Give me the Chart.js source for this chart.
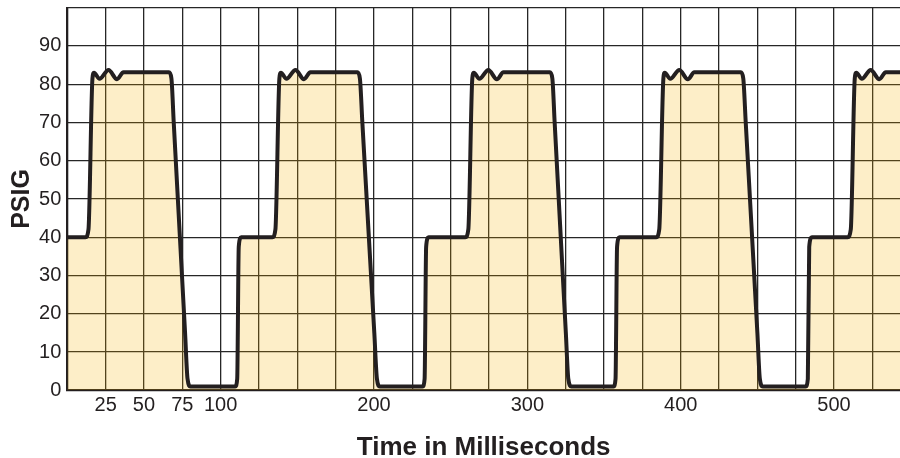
<!DOCTYPE html>
<html>
<head>
<meta charset="utf-8">
<title>PSIG</title>
<script src="https://cdn.jsdelivr.net/npm/chart.js@4.4.1/dist/chart.umd.min.js"></script>
<style>
    html, body { margin: 0; padding: 0; background: #ffffff; }
    #wrap { position: relative; width: 900px; height: 458px; }
</style>
</head>
<body>
<div id="wrap"><canvas id="main-chart"></canvas></div>
<script>
// pressure trace, time in ms
const time_ms = [
    0, 11.9, 13.8, 16.4, 17.4, 21.0, 26.9, 32.4, 36.6, 66.3, 67.9, 69.4, 76.8, 78.4, 80.3, 109.5, 110.8, 111.8, 113.4,
    133.8, 135.7, 138.3, 139.3, 142.9, 148.8, 154.3, 158.5, 189.2, 190.8, 192.4, 200.2, 201.9, 203.8, 231.7, 233.0, 234.0, 235.6,
    259.6, 261.5, 264.1, 265.1, 268.7, 274.6, 280.1, 284.4, 314.7, 316.3, 317.8, 325.1, 326.7, 328.7, 356.2, 357.5, 358.5, 360.1,
    384.1, 386.0, 388.7, 389.6, 393.2, 399.1, 404.6, 408.9, 439.2, 440.8, 442.4, 450.0, 451.6, 453.5, 481.5, 482.9, 483.8, 485.5,
    508.9, 510.9, 513.5, 514.5, 518.1, 523.9, 529.5, 533.7, 546.0
];
const psig = [
    40, 40, 42, 81.5, 83, 81.4, 83.7, 81.3, 83.1, 83.1, 81.5, 70, 15, 3, 1, 1, 3, 37.5, 40,
    40, 42, 81.5, 83, 81.4, 83.7, 81.3, 83.1, 83.1, 81.5, 70, 15, 3, 1, 1, 3, 37.5, 40,
    40, 42, 81.5, 83, 81.4, 83.7, 81.3, 83.1, 83.1, 81.5, 70, 15, 3, 1, 1, 3, 37.5, 40,
    40, 42, 81.5, 83, 81.4, 83.7, 81.3, 83.1, 83.1, 81.5, 70, 15, 3, 1, 1, 3, 37.5, 40,
    40, 42, 81.5, 83, 81.4, 83.7, 81.3, 83.1, 83.1
];

const x_tick_labels = [25, 50, 75, 100, 200, 300, 400, 500];
const y_tick_labels = [0, 10, 20, 30, 40, 50, 60, 70, 80, 90];

document.addEventListener("DOMContentLoaded", () => {
    const ctx = document.getElementById("main-chart").getContext("2d");
    const font_family = '"Liberation Sans", Arial, Helvetica, sans-serif';
    const ink = "#231f20";

    Chart.defaults.font.family = font_family;
    Chart.defaults.color = ink;

    const points = time_ms.map((t, i) => ({ x: t, y: psig[i] }));

    // no extra room for the edge tick labels, the frame sits where the padding says
    const no_edge_padding = (scale) => {
        scale.paddingTop = 0;
        scale.paddingBottom = 0;
        scale.paddingLeft = 0;
        scale.paddingRight = 0;
    };

    new Chart(ctx, {
        type: "line",
        data: {
            datasets: [{
                data: points,
                borderColor: ink,
                borderWidth: 4,
                borderJoinStyle: "round",
                borderCapStyle: "round",
                backgroundColor: "rgba(246, 176, 0, 0.216)",
                fill: "origin",
                pointRadius: 0,
                cubicInterpolationMode: "monotone",
            }],
        },
        options: {
            responsive: true,
            maintainAspectRatio: false,
            animation: false,
            layout: {
                padding: { top: 7.7, right: 0, bottom: 0, left: 0 },
            },
            plugins: {
                legend: { display: false },
                tooltip: { enabled: false },
            },
            scales: {
                x: {
                    type: "linear",
                    min: 0,
                    max: 543,
                    afterFit: (scale) => {
                        scale.height = 67.7;
                        no_edge_padding(scale);
                    },
                    grid: {
                        color: "#262626",
                        lineWidth: 1.3,
                        drawTicks: false,
                    },
                    border: { color: ink, width: 2 },
                    ticks: {
                        stepSize: 25,
                        autoSkip: false,
                        maxRotation: 0,
                        includeBounds: false,
                        padding: 3,
                        font: { size: 20 },
                        callback: (value) => x_tick_labels.includes(value) ? String(value) : "",
                    },
                    title: {
                        display: true,
                        text: "Time in Milliseconds",
                        font: { size: 26, weight: "bold", lineHeight: 1 },
                        padding: { top: 0, bottom: -3 },
                    },
                },
                y: {
                    min: 0,
                    max: 100,
                    afterFit: (scale) => {
                        scale.width = 67.3;
                        no_edge_padding(scale);
                    },
                    grid: {
                        color: "#262626",
                        lineWidth: 1.3,
                        drawTicks: false,
                    },
                    border: { color: ink, width: 2 },
                    ticks: {
                        stepSize: 10,
                        padding: 6,
                        font: { size: 20 },
                        callback: (value) => y_tick_labels.includes(value) ? String(value) : "",
                    },
                    title: {
                        display: true,
                        text: "PSIG",
                        font: { size: 25, weight: "bold", lineHeight: 1 },
                        padding: { top: 10, bottom: 0 },
                    },
                },
            },
        },
    });
});
</script>
</body>
</html>
